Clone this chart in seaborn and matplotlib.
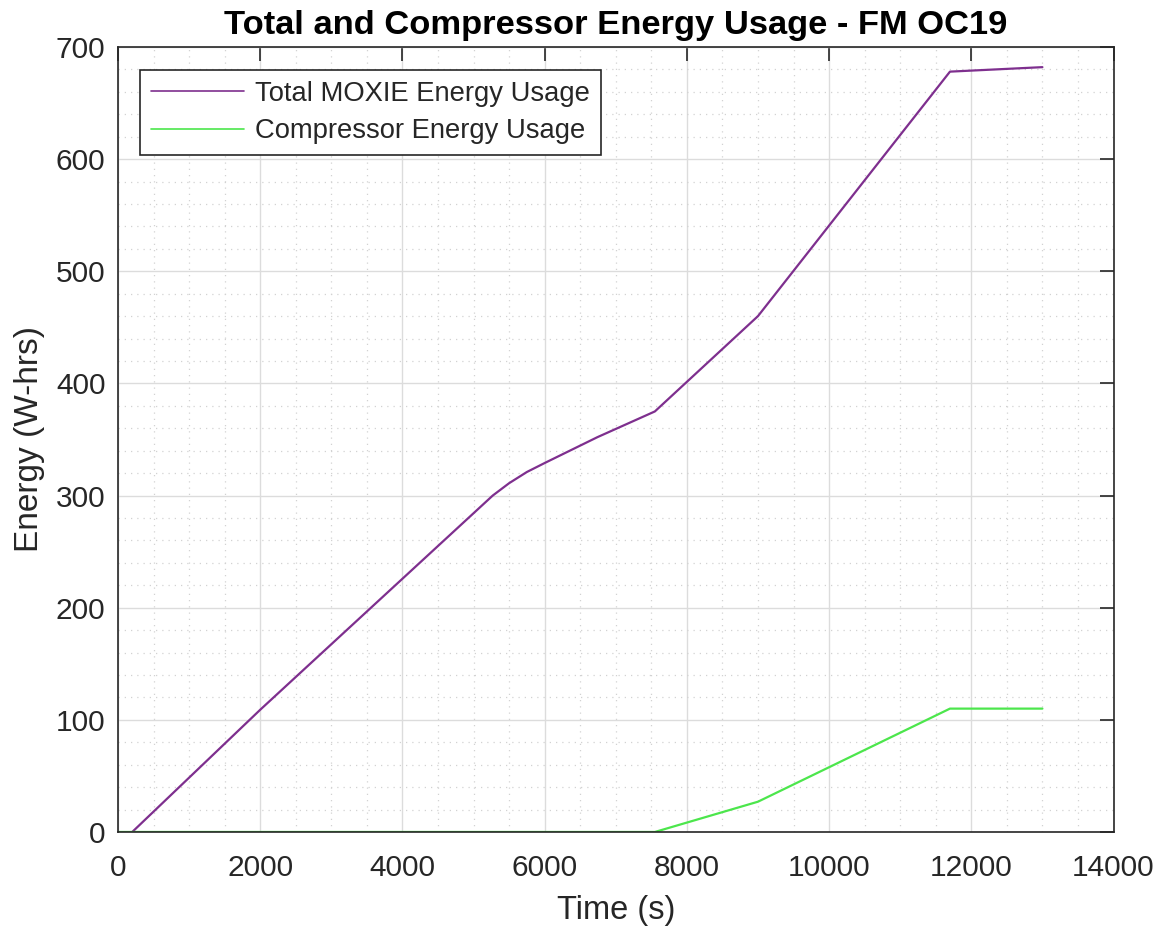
import matplotlib
matplotlib.use("Agg")
import matplotlib.pyplot as plt
from matplotlib.ticker import MultipleLocator
import seaborn as sns
import pandas as pd

# ---- data ----
total_time = [200, 2000, 5270, 5500, 5750, 6000, 6740, 7550, 9000, 11700, 13000]
total_energy = [0, 109, 300, 311, 321, 329, 352, 375, 460, 678, 682]

comp_time = [0, 7550, 9000, 11700, 13000]
comp_energy = [0, 0, 27, 110, 110]

series_names = ["Total MOXIE Energy Usage", "Compressor Energy Usage"]
title = "Total and Compressor Energy Usage - FM OC19"
xlabel = "Time (s)"
ylabel = "Energy (W-hrs)"

df = pd.concat([
    pd.DataFrame({"t": total_time, "e": total_energy, "s": series_names[0]}),
    pd.DataFrame({"t": comp_time, "e": comp_energy, "s": series_names[1]}),
], ignore_index=True)

sns.set_style("white")
plt.rcParams["font.family"] = ["Liberation Sans", "DejaVu Sans"]

fig = plt.figure(figsize=(11.65, 9.3), dpi=100)
ax = fig.add_axes([0.1013, 0.1054, 0.8545, 0.8441])

palette = {series_names[0]: "#7E2F8E", series_names[1]: "#4ce64c"}
sns.lineplot(data=df, x="t", y="e", hue="s", palette=palette, ax=ax,
             linewidth=1.6, sort=False, estimator=None, legend=True)

ax.set_xlim(0, 14000)
ax.set_ylim(0, 700)
ax.xaxis.set_major_locator(MultipleLocator(2000))
ax.xaxis.set_minor_locator(MultipleLocator(500))
ax.yaxis.set_major_locator(MultipleLocator(100))
ax.yaxis.set_minor_locator(MultipleLocator(20))

ax.grid(which="major", color="#dcdcdc", linewidth=1.0, linestyle="-")
ax.grid(which="minor", color="#d2d2d2", linewidth=0.9, linestyle=(0, (1, 4)))
ax.set_axisbelow(True)

for sp in ax.spines.values():
    sp.set_visible(True)
    sp.set_color("#262626")
    sp.set_linewidth(1.2)

ax.tick_params(which="major", direction="in", length=10, width=1.2, color="#262626",
               top=True, right=True, labelsize=21.5, labelcolor="#262626")
ax.tick_params(axis="x", which="major", pad=15.5)
ax.tick_params(axis="y", which="major", pad=9)
ax.tick_params(which="minor", length=0, top=True, right=True)

ax.set_xlabel(xlabel, fontsize=23.5, color="#262626", labelpad=10)
ax.set_ylabel(ylabel, fontsize=24, color="#262626", labelpad=8)
ax.set_title(title, fontsize=24.8, fontweight="bold", color="black", pad=9)

leg = ax.legend(loc="upper left", bbox_to_anchor=(0.022, 0.971), fontsize=19.7,
                frameon=True, fancybox=False, edgecolor="#262626", framealpha=1,
                handlelength=3.4, borderpad=0.4, labelspacing=0.42, handletextpad=0.4,
                borderaxespad=0)
leg.get_frame().set_linewidth(1.2)
for h in leg.get_lines():
    h.set_linewidth(1.2)

fig.savefig("out.png", dpi=100, facecolor="white")
